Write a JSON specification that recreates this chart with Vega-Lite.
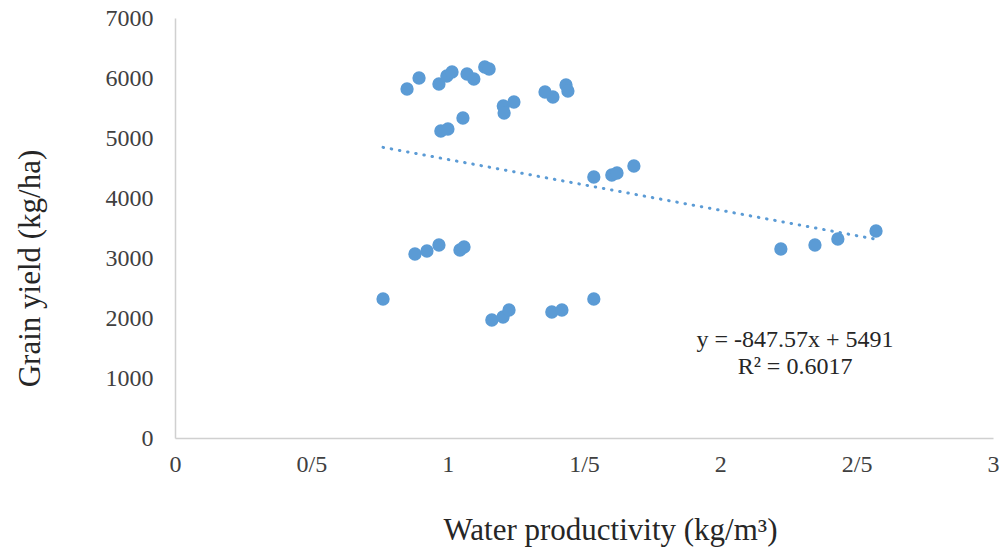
{
  "$schema": "https://vega.github.io/schema/vega-lite/v6.json",
  "width": 818,
  "height": 420,
  "autosize": "none",
  "padding": {"left": 175, "top": 18, "right": 10, "bottom": 117},
  "background": "white",
  "config": {
    "font": "Liberation Serif",
    "view": {"stroke": null},
    "axis": {
      "grid": false,
      "ticks": false,
      "labelFlush": false,
      "labelOverlap": false,
      "domainColor": "#d0d0d0",
      "domainWidth": 1.5,
      "labelFont": "Liberation Serif",
      "labelFontSize": 24,
      "labelColor": "#404040",
      "titleFont": "Liberation Serif",
      "titleFontSize": 31,
      "titleFontWeight": "normal",
      "titleColor": "#262626"
    }
  },
  "datasets": {
    "points": [
      {"wp": 0.851, "yield": 5817},
      {"wp": 0.895, "yield": 6000},
      {"wp": 0.968, "yield": 5900},
      {"wp": 0.997, "yield": 6033},
      {"wp": 1.016, "yield": 6100},
      {"wp": 1.071, "yield": 6067},
      {"wp": 1.096, "yield": 5983},
      {"wp": 1.136, "yield": 6183},
      {"wp": 1.152, "yield": 6150},
      {"wp": 1.204, "yield": 5533},
      {"wp": 1.207, "yield": 5417},
      {"wp": 1.243, "yield": 5600},
      {"wp": 1.357, "yield": 5767},
      {"wp": 1.386, "yield": 5683},
      {"wp": 1.434, "yield": 5883},
      {"wp": 1.441, "yield": 5783},
      {"wp": 0.975, "yield": 5117},
      {"wp": 1.001, "yield": 5150},
      {"wp": 1.056, "yield": 5333},
      {"wp": 1.536, "yield": 4350},
      {"wp": 1.602, "yield": 4383},
      {"wp": 1.621, "yield": 4417},
      {"wp": 1.683, "yield": 4533},
      {"wp": 0.880, "yield": 3067},
      {"wp": 0.924, "yield": 3117},
      {"wp": 0.968, "yield": 3217},
      {"wp": 1.045, "yield": 3133},
      {"wp": 1.060, "yield": 3183},
      {"wp": 0.763, "yield": 2317},
      {"wp": 1.162, "yield": 1967},
      {"wp": 1.203, "yield": 2017},
      {"wp": 1.225, "yield": 2133},
      {"wp": 1.382, "yield": 2100},
      {"wp": 1.419, "yield": 2133},
      {"wp": 1.536, "yield": 2317},
      {"wp": 2.222, "yield": 3150},
      {"wp": 2.347, "yield": 3217},
      {"wp": 2.431, "yield": 3317},
      {"wp": 2.571, "yield": 3450}
    ],
    "trend": [
      {"wp": 0.763, "yield": 4844},
      {"wp": 2.571, "yield": 3312}
    ],
    "equation": [
      {"wp": 2.274, "yield": 1633, "text": "y = -847.57x + 5491"},
      {"wp": 2.274, "yield": 1183, "text": "R² = 0.6017"}
    ]
  },
  "layer": [
    {
      "data": {"name": "points"},
      "mark": {"type": "point", "filled": true, "size": 177, "opacity": 1, "color": "#5b9bd5", "strokeWidth": 0},
      "encoding": {
        "x": {
          "field": "wp",
          "type": "quantitative",
          "scale": {"domain": [0, 3], "nice": false, "zero": true},
          "axis": {
            "values": [0, 0.5, 1, 1.5, 2, 2.5, 3],
            "format": "~g",
            "labelExpr": "replace(datum.label, '.', '/')",
            "labelPadding": 14,
            "title": "Water productivity (kg/m³)",
            "titleX": 435,
            "titleY": 92,
            "titleBaseline": "middle",
            "titleAlign": "center"
          }
        },
        "y": {
          "field": "yield",
          "type": "quantitative",
          "scale": {"domain": [0, 7000], "nice": false},
          "axis": {
            "values": [0, 1000, 2000, 3000, 4000, 5000, 6000, 7000],
            "format": "d",
            "labelPadding": 22,
            "title": "Grain yield (kg/ha)",
            "titleAngle": -90,
            "titleX": -145,
            "titleY": 250,
            "titleBaseline": "middle",
            "titleAlign": "center"
          }
        }
      }
    },
    {
      "data": {"name": "trend"},
      "mark": {"type": "line", "color": "#5b9bd5", "strokeWidth": 3, "strokeCap": "round", "strokeDash": [0.5, 7.8]},
      "encoding": {
        "x": {"field": "wp", "type": "quantitative"},
        "y": {"field": "yield", "type": "quantitative"}
      }
    },
    {
      "data": {"name": "equation"},
      "mark": {"type": "text", "font": "Liberation Serif", "fontSize": 24, "color": "#262626", "align": "center", "baseline": "middle"},
      "encoding": {
        "x": {"field": "wp", "type": "quantitative"},
        "y": {"field": "yield", "type": "quantitative"},
        "text": {"field": "text"}
      }
    }
  ]
}
